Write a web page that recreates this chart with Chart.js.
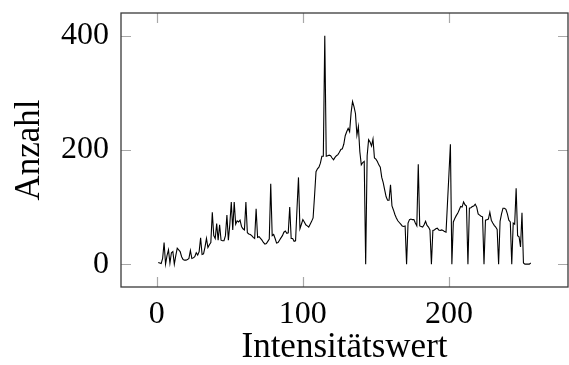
<!DOCTYPE html>
<html>
<head>
<meta charset="utf-8">
<script src="https://cdn.jsdelivr.net/npm/chart.js@4/dist/chart.umd.min.js"></script>
<style>
  html, body { margin: 0; padding: 0; background: #fff; }
  #wrap { width: 569px; height: 365px; }
</style>
</head>
<body>
<div id="wrap"><canvas id="c" width="569" height="365"></canvas></div>
<script>
// Counts per intensity value 1..256
const counts = [
  3, 2, 1, 10, 38, 0, 15, 25, 2, 20,
  22, 0, 15, 28, 25, 22, 13, 8, 7, 7,
  8, 10, 24, 10, 11, 13, 20, 16, 22, 46,
  17, 18, 30, 45, 29, 34, 38, 91, 50, 45,
  71, 42, 69, 42, 41, 41, 50, 86, 42, 70,
  109, 60, 109, 70, 76, 74, 77, 66, 62, 60,
  109, 55, 53, 52, 50, 47, 45, 97, 47, 48,
  45, 42, 38, 35, 36, 40, 44, 141, 50, 52,
  45, 37, 38, 42, 46, 50, 56, 58, 54, 55,
  100, 45, 45, 40, 41, 98, 152, 62, 70, 78,
  74, 69, 67, 65, 70, 75, 81, 120, 162, 167,
  170, 177, 189, 189, 400, 189, 190, 191, 190, 186,
  183, 187, 190, 192, 196, 201, 202, 210, 225, 232,
  238, 232, 265, 285, 276, 264, 226, 241, 197, 174,
  178, 180, 0, 190, 218, 214, 207, 219, 186, 184,
  180, 174, 170, 152, 143, 130, 118, 112, 112, 139,
  102, 95, 87, 81, 76, 73, 70, 67, 66, 67,
  0, 72, 78, 79, 78, 78, 72, 67, 175, 67,
  66, 65, 69, 75, 68, 65, 60, 0, 59, 60,
  62, 63, 60, 59, 60, 59, 57, 56, 107, 158,
  210, 0, 74, 80, 85, 89, 95, 101, 100, 109,
  104, 102, 0, 98, 99, 101, 102, 105, 100, 88,
  86, 84, 83, 0, 77, 78, 79, 91, 77, 72,
  68, 65, 61, 0, 75, 88, 98, 98, 96, 88,
  77, 74, 0, 72, 70, 133, 50, 48, 30, 90,
  2, 0, 0, 0, 0, 2
];
const intensities = counts.map((_, i) => i + 1);
const xTicks = [0, 100, 200];
const yTicks = [0, 200, 400];
const xTitle = 'Intensitätswert';
const yTitle = 'Anzahl';

const FONT = "'Liberation Serif', 'Times New Roman', serif";

const frameTicks = {
  id: 'frameTicks',
  afterDatasetsDraw(chart) {
    const { ctx, chartArea: a, scales: { x, y } } = chart;
    const L = 10;
    ctx.save();
    ctx.strokeStyle = '#a8a8a8';
    ctx.lineWidth = 1.2;
    ctx.beginPath();
    xTicks.forEach(v => {
      const px = Math.round(x.getPixelForValue(v)) + 0.5;
      ctx.moveTo(px, a.bottom); ctx.lineTo(px, a.bottom - L);
      ctx.moveTo(px, a.top); ctx.lineTo(px, a.top + L);
    });
    yTicks.forEach(v => {
      const py = Math.round(y.getPixelForValue(v)) + 0.5;
      ctx.moveTo(a.left, py); ctx.lineTo(a.left + L, py);
      ctx.moveTo(a.right, py); ctx.lineTo(a.right - L, py);
    });
    ctx.stroke();
    ctx.strokeStyle = '#3a3a3a';
    ctx.lineWidth = 1.3;
    ctx.strokeRect(a.left, a.top, a.right - a.left, a.bottom - a.top);
    ctx.restore();
  }
};

new Chart(document.getElementById('c'), {
  type: 'line',
  data: {
    datasets: [{
      data: intensities.map((v, i) => ({ x: v, y: counts[i] })),
      borderColor: '#000',
      borderWidth: 1.1,
      pointRadius: 0,
      tension: 0,
      fill: false
    }]
  },
  options: {
    responsive: false,
    animation: false,
    events: [],
    layout: { padding: { top: 13, right: 1, left: 0, bottom: 0 } },
    plugins: { legend: { display: false }, tooltip: { enabled: false } },
    scales: {
      x: {
        type: 'linear',
        min: -24.5,
        max: 281.5,
        afterBuildTicks: s => { s.ticks = xTicks.map(v => ({ value: v })); },
        afterFit: s => { s.height = 78; s.paddingLeft = 0; s.paddingRight = 0; },
        grid: { display: false, drawTicks: false },
        border: { display: false },
        ticks: { color: '#000', font: { family: FONT, size: 32 }, padding: 8, maxRotation: 0 },
        title: { display: true, text: xTitle, color: '#000', font: { family: FONT, size: 35 }, padding: { top: 0, bottom: -4 } }
      },
      y: {
        type: 'linear',
        min: -40,
        max: 440,
        afterBuildTicks: s => { s.ticks = yTicks.map(v => ({ value: v })); },
        afterFit: s => { s.width = 121; s.paddingTop = 0; s.paddingBottom = 0; },
        grid: { display: false, drawTicks: false },
        border: { display: false },
        ticks: { color: '#000', font: { family: FONT, size: 32 }, padding: 12 },
        title: { display: true, text: yTitle, color: '#000', font: { family: FONT, size: 35 }, padding: { top: 9, bottom: 0 } }
      }
    }
  },
  plugins: [frameTicks]
});
</script>
</body>
</html>
